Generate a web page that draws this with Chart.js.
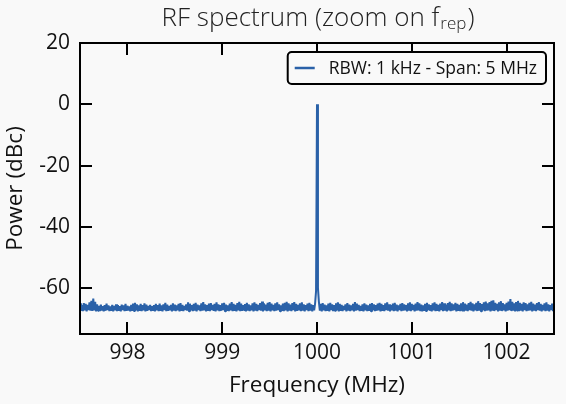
<!DOCTYPE html>
<html>
<head>
<meta charset="utf-8">
<title>RF spectrum</title>
<script src="https://cdn.jsdelivr.net/npm/chart.js@4/dist/chart.umd.min.js"></script>
<style>
  html, body { margin: 0; padding: 0; background: #f9f9f9; }
  #wrap { width: 566px; height: 404px; }
</style>
</head>
<body>
<div id="wrap"><canvas id="spectrumChart" width="566" height="404"></canvas></div>
<script>
// sweep settings of the analyser (MHz)
var freqStart = 997.5;
var freqStep = 0.01;

// power readings (dBc), one per sweep point
var powerDbc = [
  -65.0,-67.4,-65.6,-67.5,-64.9,-67.3,-65.2,-67.6,-65.5,-67.2,-64.7,-67.4,-64.2,-67.5,-63.4,-67.3,-64.5,-67.6,-65.3,-67.4,
  -65.8,-67.5,-65.4,-67.3,-65.9,-67.6,-65.6,-67.4,-65.1,-67.2,-65.7,-67.5,-66.0,-67.4,-65.5,-67.6,-65.8,-67.3,-65.3,-67.5,
  -65.6,-67.4,-65.9,-67.6,-65.4,-67.2,-65.7,-67.5,-65.2,-67.4,-65.8,-67.3,-66.0,-67.6,-65.5,-67.4,-65.1,-67.5,-64.8,-67.3,
  -65.3,-67.6,-65.7,-67.4,-65.2,-67.5,-65.6,-67.3,-65.0,-67.6,-65.4,-67.4,-65.8,-67.2,-65.5,-67.5,-65.9,-67.4,-65.6,-67.6,
  -65.2,-67.3,-65.6,-67.5,-65.1,-67.4,-65.7,-67.6,-65.3,-67.2,-64.8,-67.5,-65.4,-67.4,-65.8,-67.3,-65.5,-67.6,-65.0,-67.4,
  -65.4,-67.5,-65.7,-67.3,-65.2,-67.6,-64.9,-67.4,-65.5,-67.5,-65.8,-67.2,-65.3,-67.4,-64.7,-67.6,-65.1,-67.3,-65.6,-67.5,
  -65.2,-67.4,-64.8,-67.6,-65.4,-67.2,-65.7,-67.5,-65.0,-67.4,-64.6,-67.3,-65.3,-67.6,-65.6,-67.4,-65.1,-67.5,-64.9,-67.2,
  -65.5,-67.4,-65.2,-67.6,-64.7,-67.3,-65.3,-67.5,-65.6,-67.4,-65.0,-67.2,-64.8,-67.6,-65.4,-67.4,-65.7,-67.5,-65.1,-67.3,
  -64.6,-67.5,-65.2,-67.4,-65.5,-67.6,-64.9,-67.3,-64.5,-67.5,-65.1,-67.4,-65.6,-67.2,-65.2,-67.6,-64.8,-67.4,-65.3,-67.5,
  -65.7,-67.3,-65.0,-67.6,-64.7,-67.4,-65.2,-67.5,-65.5,-67.2,-64.9,-67.4,-64.4,-67.6,-65.0,-67.3,-65.4,-67.5,-64.8,-67.4,
  -64.6,-67.6,-65.1,-67.3,-65.5,-67.5,-65.0,-67.4,-64.7,-67.2,-65.3,-67.6,-65.6,-67.4,-65.1,-67.5,-64.8,-67.3,-64.5,-67.6,
  -65.0,-67.4,-65.4,-67.5,-64.9,-67.2,-64.6,-67.6,-65.2,-67.4,-65.5,-67.3,-65.0,-67.5,-64.7,-67.4,-65.3,-67.6,-65.6,-67.2,
  -65.1,-67.5,-64.8,-67.4,-65.3,-67.6,-65.6,-67.3,-65.0,-61.0,  0.0,-60.0,-64.5,-67.4,-65.2,-67.6,-64.9,-67.3,-65.4,-67.5,
  -65.7,-67.4,-65.1,-67.6,-64.8,-67.2,-65.3,-67.5,-65.6,-67.4,-65.0,-67.3,-64.7,-67.6,-65.2,-67.4,-65.5,-67.5,-65.8,-67.2,
  -65.3,-67.6,-64.9,-67.4,-65.4,-67.5,-65.7,-67.3,-65.2,-67.6,-64.6,-67.4,-65.1,-67.2,-65.5,-67.5,-65.8,-67.4,-65.3,-67.6,
  -65.0,-67.3,-65.4,-67.5,-65.7,-67.4,-65.2,-67.6,-64.9,-67.2,-65.3,-67.5,-65.6,-67.4,-65.1,-67.3,-64.8,-67.6,-65.2,-67.4,
  -65.6,-67.5,-65.0,-67.2,-64.7,-67.4,-65.3,-67.6,-65.6,-67.3,-65.1,-67.5,-64.8,-67.4,-65.4,-67.6,-65.7,-67.2,-65.2,-67.5,
  -64.9,-67.4,-65.3,-67.3,-65.6,-67.6,-65.0,-67.4,-64.7,-67.5,-65.2,-67.2,-65.5,-67.6,-65.1,-67.4,-64.6,-67.3,-65.0,-67.5,
  -65.4,-67.6,-65.7,-67.4,-65.2,-67.5,-64.8,-67.2,-65.3,-67.4,-65.6,-67.6,-65.0,-67.3,-64.7,-67.5,-65.2,-67.4,-65.5,-67.6,
  -65.1,-67.2,-64.6,-67.5,-65.0,-67.4,-65.4,-67.6,-64.9,-67.3,-64.5,-67.5,-65.0,-67.4,-65.3,-67.2,-64.8,-67.6,-65.2,-67.4,
  -65.5,-67.5,-65.0,-67.3,-64.6,-67.6,-65.1,-67.4,-65.4,-67.5,-64.9,-67.2,-64.5,-67.4,-65.0,-67.6,-65.3,-67.3,-64.8,-67.5,
  -64.3,-67.4,-64.9,-67.6,-65.2,-67.2,-64.7,-67.5,-64.4,-67.4,-65.0,-67.3,-64.6,-67.6,-64.2,-67.4,-64.0,-67.5,-64.8,-67.2,
  -65.2,-67.6,-64.7,-67.4,-64.3,-67.5,-64.9,-67.3,-65.3,-67.6,-64.8,-67.4,-64.4,-67.2,-63.6,-67.5,-64.5,-67.4,-65.0,-67.6,
  -64.6,-67.3,-64.2,-67.5,-64.8,-67.4,-65.2,-67.6,-64.7,-67.2,-64.9,-67.5,-65.3,-67.4,-64.8,-67.3,-64.5,-67.6,-65.1,-67.4,
  -65.4,-67.5,-64.9,-67.2,-64.6,-67.4,-65.2,-67.6,-65.5,-67.3,-65.0,-67.5,-64.7,-67.4,-65.3,-67.6,-65.6,-67.2,-65.1,-67.5,
  -64.8
];

var xTickValues = [998, 999, 1000, 1001, 1002];
var yTickValues = [20, 0, -20, -40, -60];

var seriesLabel = "RBW: 1 kHz - Span: 5 MHz";
var lineColor = "#2a61a8";
var fontFamily = "'Open Sans', 'DejaVu Sans', sans-serif";

var points = powerDbc.map(function (p, i) {
  return { x: freqStart + i * freqStep, y: p };
});

// frame, inward ticks on all sides, legend box and title with subscript
var framePlugin = {
  id: "frame",
  afterDraw: function (chart) {
    var c = chart.ctx;
    var a = chart.chartArea;
    var xs = chart.scales.x, ys = chart.scales.y;
    var tl = 12;
    c.save();
    c.strokeStyle = "#000";
    c.lineWidth = 2;
    c.lineCap = "butt";
    c.beginPath();
    xTickValues.forEach(function (v) {
      var px = Math.round(xs.getPixelForValue(v));
      c.moveTo(px, a.bottom); c.lineTo(px, a.bottom - tl);
      c.moveTo(px, a.top); c.lineTo(px, a.top + tl);
    });
    yTickValues.forEach(function (v) {
      var py = Math.round(ys.getPixelForValue(v));
      c.moveTo(a.left, py); c.lineTo(a.left + tl, py);
      c.moveTo(a.right, py); c.lineTo(a.right - tl, py);
    });
    c.stroke();
    c.strokeRect(a.left, a.top, a.right - a.left, a.bottom - a.top);

    // legend
    c.font = "17.5px " + fontFamily;
    var tw = c.measureText(seriesLabel).width;
    var bw = tw + 50, bh = 32;
    var bx = a.right - 8 - bw, by = a.top + 9;
    c.beginPath();
    c.roundRect(bx, by, bw, bh, 4);
    c.fillStyle = "#f9f9f9";
    c.fill();
    c.lineWidth = 2;
    c.strokeStyle = "#000";
    c.stroke();
    c.beginPath();
    c.strokeStyle = lineColor;
    c.lineWidth = 2.5;
    c.moveTo(bx + 7, by + bh / 2);
    c.lineTo(bx + 27, by + bh / 2);
    c.stroke();
    c.fillStyle = "#111";
    c.textBaseline = "middle";
    c.textAlign = "left";
    c.fillText(seriesLabel, bx + 41, by + bh / 2 + 1);

    // title
    var main = "RF spectrum (zoom on f", sub = "rep", tail = ")";
    var big = "300 26px " + fontFamily, small = "300 17px " + fontFamily;
    c.font = big;
    var w1 = c.measureText(main).width, w3 = c.measureText(tail).width;
    c.font = small;
    var w2 = c.measureText(sub).width;
    var cx = (a.left + a.right) / 2;
    var x0 = cx - (w1 + w2 + w3) / 2;
    var base = 26;
    c.fillStyle = "#222";
    c.textBaseline = "alphabetic";
    c.font = big;
    c.fillText(main, x0, base);
    c.font = small;
    c.fillText(sub, x0 + w1 + 1, base + 3);
    c.font = big;
    c.fillText(tail, x0 + w1 + w2 + 2, base);
    c.restore();
  }
};

function plainLabel(v) { return String(v); }

var ctx = document.getElementById("spectrumChart");
var spectrumChart = new Chart(ctx, {
  type: "line",
  data: {
    datasets: [{
      label: seriesLabel,
      data: points,
      borderColor: lineColor,
      backgroundColor: lineColor,
      borderWidth: 2,
      borderJoinStyle: "bevel",
      pointRadius: 0,
      tension: 0,
      fill: false
    }]
  },
  options: {
    responsive: false,
    animation: false,
    devicePixelRatio: 1,
    layout: { padding: { top: 43, right: 12, left: 0, bottom: 0 } },
    plugins: {
      legend: { display: false },
      title: { display: false },
      tooltip: { enabled: false }
    },
    scales: {
      x: {
        type: "linear",
        min: 997.5,
        max: 1002.5,
        afterBuildTicks: function (s) {
          s.ticks = xTickValues.map(function (v) { return { value: v }; });
        },
        afterFit: function (s) { s.height = 70; },
        grid: { display: false, drawTicks: false },
        border: { display: false },
        ticks: {
          font: { family: fontFamily, size: 21 },
          color: "#111",
          padding: 6,
          maxRotation: 0,
          callback: plainLabel
        },
        title: {
          display: true,
          text: "Frequency (MHz)",
          font: { family: fontFamily, size: 22.5 },
          color: "#111",
          padding: { top: 0, bottom: 5 }
        }
      },
      y: {
        min: -75,
        max: 20,
        afterBuildTicks: function (s) {
          s.ticks = yTickValues.map(function (v) { return { value: v }; });
        },
        afterFit: function (s) { s.width = 80; },
        grid: { display: false, drawTicks: false },
        border: { display: false },
        ticks: {
          font: { family: fontFamily, size: 21 },
          color: "#111",
          padding: 10,
          callback: plainLabel
        },
        title: {
          display: true,
          text: "Power (dBc)",
          font: { family: fontFamily, size: 22.5 },
          color: "#111",
          padding: { top: 2, bottom: 2 }
        }
      }
    }
  },
  plugins: [framePlugin]
});
</script>
</body>
</html>
